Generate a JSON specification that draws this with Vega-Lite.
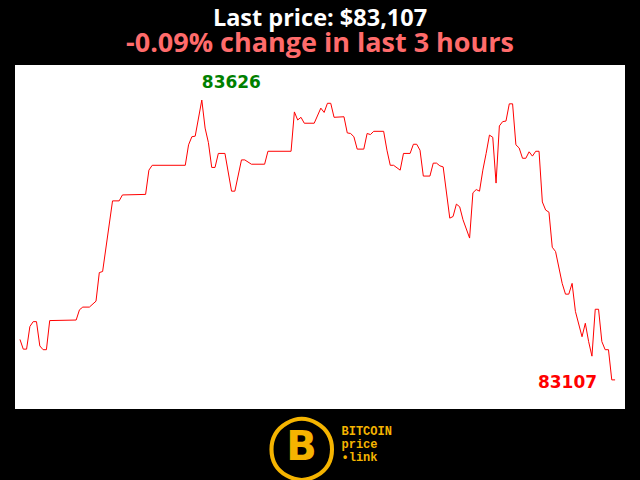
{
  "$schema": "https://vega.github.io/schema/vega-lite/v6.json",
  "width": 610,
  "height": 344,
  "autosize": "none",
  "padding": {"left": 15, "top": 65, "right": 15, "bottom": 71},
  "background": "black",
  "config": {"view": {"fill": "white", "stroke": null}},
  "title": {
    "text": "Last price: $83,107",
    "subtitle": "-0.09% change in last 3 hours",
    "anchor": "middle",
    "font": "Open Sans",
    "fontSize": 23.5,
    "fontWeight": "bold",
    "color": "white",
    "subtitleFont": "Open Sans",
    "subtitleFontSize": 27,
    "subtitleFontWeight": "bold",
    "subtitleColor": "#ff6b6b",
    "subtitlePadding": 1,
    "offset": 8
  },
  "data": {"values": [
    {"t": 0, "v": 83182}, {"t": 1, "v": 83164}, {"t": 2, "v": 83164}, {"t": 3, "v": 83206},
    {"t": 4, "v": 83215}, {"t": 5, "v": 83215}, {"t": 6, "v": 83170}, {"t": 7, "v": 83163},
    {"t": 8, "v": 83163}, {"t": 9, "v": 83217}, {"t": 17, "v": 83218}, {"t": 18, "v": 83237},
    {"t": 19, "v": 83242}, {"t": 21, "v": 83242}, {"t": 23, "v": 83253}, {"t": 24, "v": 83306},
    {"t": 25, "v": 83308}, {"t": 28, "v": 83439}, {"t": 30, "v": 83439}, {"t": 31, "v": 83450},
    {"t": 38, "v": 83451}, {"t": 39, "v": 83496}, {"t": 40, "v": 83505}, {"t": 50, "v": 83505},
    {"t": 51, "v": 83543}, {"t": 52, "v": 83558}, {"t": 53, "v": 83559}, {"t": 55, "v": 83626},
    {"t": 56, "v": 83574}, {"t": 57, "v": 83547}, {"t": 58, "v": 83501}, {"t": 59, "v": 83501},
    {"t": 60, "v": 83527}, {"t": 62, "v": 83527}, {"t": 64, "v": 83457}, {"t": 65, "v": 83457},
    {"t": 67, "v": 83515}, {"t": 68, "v": 83515}, {"t": 70, "v": 83507}, {"t": 74, "v": 83507},
    {"t": 75, "v": 83531}, {"t": 82, "v": 83531}, {"t": 83, "v": 83604}, {"t": 84, "v": 83589},
    {"t": 85, "v": 83594}, {"t": 86, "v": 83583}, {"t": 89, "v": 83583}, {"t": 91, "v": 83611},
    {"t": 92, "v": 83603}, {"t": 93, "v": 83620}, {"t": 94, "v": 83620}, {"t": 95, "v": 83594},
    {"t": 98, "v": 83595}, {"t": 99, "v": 83565}, {"t": 100, "v": 83564}, {"t": 101, "v": 83558},
    {"t": 102, "v": 83535}, {"t": 104, "v": 83535}, {"t": 105, "v": 83564}, {"t": 106, "v": 83562},
    {"t": 107, "v": 83568}, {"t": 110, "v": 83568}, {"t": 111, "v": 83533}, {"t": 112, "v": 83505},
    {"t": 113, "v": 83505}, {"t": 115, "v": 83496}, {"t": 116, "v": 83527}, {"t": 118, "v": 83527},
    {"t": 119, "v": 83544}, {"t": 120, "v": 83544}, {"t": 121, "v": 83533}, {"t": 122, "v": 83485},
    {"t": 124, "v": 83485}, {"t": 125, "v": 83509}, {"t": 126, "v": 83509}, {"t": 127, "v": 83504},
    {"t": 128, "v": 83502}, {"t": 130, "v": 83407}, {"t": 131, "v": 83410}, {"t": 132, "v": 83433},
    {"t": 133, "v": 83428}, {"t": 134, "v": 83404}, {"t": 136, "v": 83370}, {"t": 137, "v": 83454},
    {"t": 138, "v": 83460}, {"t": 139, "v": 83457}, {"t": 140, "v": 83496}, {"t": 141, "v": 83527},
    {"t": 142, "v": 83561}, {"t": 143, "v": 83557}, {"t": 144, "v": 83472}, {"t": 145, "v": 83578},
    {"t": 146, "v": 83586}, {"t": 147, "v": 83587}, {"t": 148, "v": 83619}, {"t": 149, "v": 83619},
    {"t": 150, "v": 83543}, {"t": 151, "v": 83537}, {"t": 152, "v": 83518}, {"t": 153, "v": 83518},
    {"t": 154, "v": 83530}, {"t": 155, "v": 83522}, {"t": 156, "v": 83531}, {"t": 157, "v": 83531},
    {"t": 158, "v": 83437}, {"t": 159, "v": 83422}, {"t": 160, "v": 83418}, {"t": 161, "v": 83353},
    {"t": 162, "v": 83345}, {"t": 164, "v": 83286}, {"t": 165, "v": 83266}, {"t": 166, "v": 83266},
    {"t": 167, "v": 83286}, {"t": 168, "v": 83234}, {"t": 170, "v": 83187}, {"t": 171, "v": 83212},
    {"t": 172, "v": 83178}, {"t": 173, "v": 83151}, {"t": 174, "v": 83238}, {"t": 175, "v": 83238},
    {"t": 176, "v": 83178}, {"t": 177, "v": 83163}, {"t": 178, "v": 83163}, {"t": 179, "v": 83107},
    {"t": 180, "v": 83107}
  ]},
  "resolve": {"scale": {"x": "independent", "y": "independent"}},
  "layer": [
    {
      "mark": {"type": "line", "color": "#ff0000", "strokeWidth": 1, "interpolate": "linear"},
      "encoding": {
        "x": {"field": "t", "type": "quantitative", "scale": {"domain": [-1.5, 183], "nice": false, "zero": false},
          "axis": {"orient": "bottom", "domain": false, "ticks": false, "labels": false, "grid": false,
            "title": ["BITCOIN", "price", "\u2022link"], "titleFont": "Liberation Mono", "titleFontSize": 12,
            "titleFontWeight": "bold", "titleColor": "#f5b400", "titleLineHeight": 13, "titleAlign": "left",
            "titleBaseline": "top", "titleX": 326, "titleY": 16}},
        "y": {"field": "v", "type": "quantitative", "scale": {"domain": [83053, 83691], "nice": false, "zero": false},
          "axis": {"orient": "left", "domain": false, "ticks": false, "labels": false, "grid": false,
            "title": "\u25ef", "titleFont": "DejaVu Sans", "titleFontSize": 64, "titleColor": "#f5b400",
            "titleAngle": 0, "titleAlign": "center", "titleBaseline": "middle", "titleX": 286, "titleY": 381}}
      }
    },
    {
      "transform": [{"filter": "datum.t == 55"}],
      "mark": {"type": "text", "color": "#008000", "font": "DejaVu Sans", "fontWeight": "bold", "fontSize": 17,
        "align": "left", "baseline": "middle", "dx": 0, "dy": -17},
      "encoding": {
        "x": {"field": "t", "type": "quantitative", "scale": {"domain": [-1.5, 183], "nice": false, "zero": false},
          "axis": {"orient": "bottom", "domain": false, "ticks": false, "labels": false, "grid": false,
            "title": null}},
        "y": {"field": "v", "type": "quantitative", "scale": {"domain": [83053, 83691], "nice": false, "zero": false},
          "axis": {"orient": "right", "domain": false, "ticks": false, "labels": false, "grid": false,
            "title": "B", "titleFont": "DejaVu Sans", "titleFontSize": 40, "titleFontWeight": "bold",
            "titleColor": "#f5b400", "titleAngle": 0, "titleAlign": "center", "titleBaseline": "middle",
            "titleX": -324, "titleY": 382}},
        "text": {"field": "v", "type": "quantitative", "format": "d"}
      }
    },
    {
      "transform": [{"filter": "datum.t == 180"}],
      "mark": {"type": "text", "color": "#ff0000", "font": "DejaVu Sans", "fontWeight": "bold", "fontSize": 17,
        "align": "right", "baseline": "middle", "dx": -18, "dy": 3},
      "encoding": {
        "x": {"field": "t", "type": "quantitative", "scale": {"domain": [-1.5, 183], "nice": false, "zero": false}, "axis": null},
        "y": {"field": "v", "type": "quantitative", "scale": {"domain": [83053, 83691], "nice": false, "zero": false}, "axis": null},
        "text": {"field": "v", "type": "quantitative", "format": "d"}
      }
    }
  ]
}
